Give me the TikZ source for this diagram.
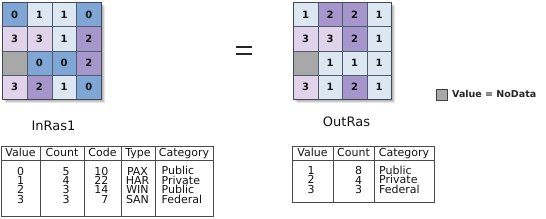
\documentclass[tikz,border=0pt]{standalone}
\usepackage{fontspec}
\setmainfont{DejaVu Sans}
\definecolor{colZero}{HTML}{7FA6D4}
\definecolor{colOne}{HTML}{DDE7F2}
\definecolor{colTwo}{HTML}{A696CB}
\definecolor{colThree}{HTML}{E1D4EA}
\definecolor{colNo}{HTML}{A8A8A8}
\definecolor{gridline}{HTML}{4F5B6E}
\definecolor{tabline}{HTML}{4A4A4A}
\definecolor{txt}{HTML}{141414}
\tikzset{
  cellbase/.style={draw=gridline, line width=0.5pt, inner sep=0pt, anchor=north west,
    font=\fontsize{10}{10}\selectfont\bfseries, text=txt},
  incell/.style={cellbase, minimum width=24.75pt, minimum height=24.25pt},
  outcell/.style={cellbase, minimum width=24.5pt, minimum height=24.25pt},
  c0/.style={fill=colZero, node contents=0},
  c1/.style={fill=colOne, node contents=1},
  c2/.style={fill=colTwo, node contents=2},
  c3/.style={fill=colThree, node contents=3},
  cN/.style={fill=colNo, node contents={}},
  gridframe/.style={draw=gridline!80!black, line width=0.8pt},
  shadowbox/.style={fill=black, opacity=0.10, draw=none},
  tab/.style={draw=tabline, line width=0.8pt},
  tt/.style={font=\fontsize{11}{11}\selectfont, text=txt, inner sep=0pt, anchor=base},
  colc/.style={font=\fontsize{11}{9.4}\selectfont, text=txt, inner sep=0pt, align=center, anchor=north},
  coll/.style={colc, align=left, anchor=north west},
  colr/.style={colc, align=right, anchor=north east},
  lbl/.style={font=\fontsize{13}{13}\selectfont, text=txt, inner sep=0pt, anchor=base},
}
\begin{document}
\begin{tikzpicture}[x=1pt,y=-1pt]
\useasboundingbox[fill=white] (0,0) rectangle (546,218);

% soft shadows
\foreach \s in {1,2,3,4} {
  \fill[shadowbox] (2+\s,2+\s) rectangle (101+\s,99+\s);
  \fill[shadowbox] (293+\s,2+\s) rectangle (391+\s,99+\s);
}

% input raster
\foreach \v [count=\i from 0] in {0,1,1,0,3,3,1,2,N,0,0,2,3,2,1,0} {
  \pgfmathtruncatemacro\r{div(\i,4)}
  \pgfmathtruncatemacro\c{mod(\i,4)}
  \node (in\i) at ({2+24.75*\c},{2+24.25*\r}) [incell, c\v];
}
\draw[gridframe] (in0.north west) rectangle (in15.south east);

% output raster
\foreach \v [count=\i from 0] in {1,2,2,1,3,3,2,1,N,1,1,1,3,1,2,1} {
  \pgfmathtruncatemacro\r{div(\i,4)}
  \pgfmathtruncatemacro\c{mod(\i,4)}
  \node (out\i) at ({293+24.5*\c},{2+24.25*\r}) [outcell, c\v];
}
\draw[gridframe] (out0.north west) rectangle (out15.south east);

% equals sign
\draw[line width=2.5pt, color=black!85] (236,47.2) -- (252,47.2);
\draw[line width=2.5pt, color=black!85] (236,54) -- (252,54);

% legend
\node[draw=black!75, fill=colNo, line width=0.6pt, minimum size=11pt, inner sep=0pt, anchor=north west] (nd) at (436,89) {};
\node[font=\fontsize{9.5}{9.5}\selectfont\bfseries, text=black!85, inner sep=0pt, anchor=base west] (ndtxt) at (452,97.8) {Value = NoData};

% labels
\node[lbl] (inlbl) at (53.5,130.5) {InRas1};
\node[lbl] (outlbl) at (346.5,126.5) {OutRas};

% table 1
\draw[tab] (1,146) rectangle (213,216);
\draw[tab] (1,160) -- (213,160);
\foreach \xx in {40,84,121,155} \draw[tab] (\xx,146) -- (\xx,216);
\node[tt] (t1h1) at (20.5,156.5) {Value};
\node[tt] (t1h2) at (62,156.5) {Count};
\node[tt] (t1h3) at (102.5,156.5) {Code};
\node[tt] (t1h4) at (138,156.5) {Type};
\node[tt] (t1h5) at (184,156.5) {Category};
\node[colc] (t1val) at (20.5,166.8) {0\\1\\2\\3};
\node[colc] (t1cnt) at (66,166.8) {5\\4\\3\\3};
\node[colr] (t1code) at (108.5,166.8) {10\\22\\14\\7};
\node[colc] (t1type) at (137.5,166.8) {PAX\\HAR\\WIN\\SAN};
\node[coll] (t1cat) at (161.5,166.4) {Public\\Private\\Public\\Federal};

% table 2
\draw[tab] (292,146) rectangle (434,202);
\draw[tab] (292,160) -- (434,160);
\foreach \xx in {333,374} \draw[tab] (\xx,146) -- (\xx,202);
\node[tt] (t2h1) at (312.5,156.5) {Value};
\node[tt] (t2h2) at (353.5,156.5) {Count};
\node[tt] (t2h3) at (404,156.5) {Category};
\node[colc] (t2val) at (311,166.3) {1\\2\\3};
\node[colc] (t2cnt) at (358.5,166.3) {8\\4\\3};
\node[coll] (t2cat) at (379,165.9) {Public\\Private\\Federal};
\end{tikzpicture}
\end{document}
